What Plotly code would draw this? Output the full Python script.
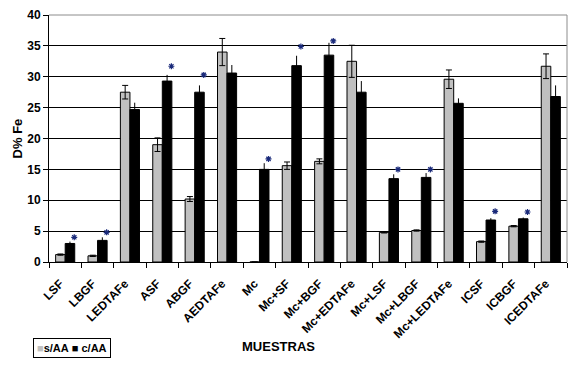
import plotly.graph_objects as go

categories = ["LSF", "LBGF", "LEDTAFe", "ASF", "ABGF", "AEDTAFe", "Mc", "Mc+SF", "Mc+BGF",
              "Mc+EDTAFe", "Mc+LSF", "Mc+LBGF", "Mc+LEDTAFe", "ICSF", "ICBGF", "ICEDTAFe"]
s_aa = [1.2, 1.0, 27.5, 19.0, 10.2, 34.0, 0, 15.6, 16.3, 32.5, 4.8, 5.1, 29.6, 3.3, 5.8, 31.7]
s_aa_err = [0.1, 0.1, 1.1, 1.1, 0.4, 2.2, 0, 0.6, 0.4, 2.6, 0.1, 0.1, 1.5, 0.1, 0.1, 2.0]
c_aa = [3.0, 3.5, 24.7, 29.3, 27.5, 30.6, 15.0, 31.8, 33.5, 27.5, 13.5, 13.7, 25.7, 6.8, 7.0, 26.8]
c_aa_err = [0.3, 0.5, 1.1, 1.0, 1.1, 1.3, 1.0, 1.6, 2.0, 1.8, 0.7, 0.7, 0.8, 0.3, 0.2, 1.8]
star_y = [4.0, 4.8, None, 31.7, 30.3, None, 16.7, 34.9, 35.8, None, 15.0, 15.0, None, 8.2, 8.1, None]
y_ticks = [0, 5, 10, 15, 20, 25, 30, 35, 40]

idx = list(range(len(categories)))
FONT = "Liberation Sans, Arial, sans-serif"
GRAY = "#C0C0C0"

fig = go.Figure()
fig.add_trace(go.Bar(
    x=idx, y=s_aa, name="s/AA",
    marker=dict(color=GRAY, line=dict(color="black", width=1)),
    error_y=dict(type="data", array=s_aa_err, visible=True, color="black", thickness=1, width=3),
))
fig.add_trace(go.Bar(
    x=idx, y=c_aa, name="c/AA",
    marker=dict(color="black", line=dict(color="black", width=1)),
    error_y=dict(type="data", array=c_aa_err, visible=True, color="black", thickness=1, width=0),
))
star_x = [i + 0.28 for i in idx]
fig.add_trace(go.Scatter(
    x=star_x, y=star_y, mode="markers", showlegend=False, hoverinfo="skip",
    marker=dict(symbol="asterisk-open", size=5, color="#1a2a7a",
                line=dict(color="#1a2a7a", width=1.2)),
))

# page body adds an 8px offset; figure is sized so the plot lands where the reference has it
fig.update_layout(
    width=570, height=357,
    margin=dict(l=41, r=11, t=7, b=103, autoexpand=False),
    paper_bgcolor="white", plot_bgcolor="white",
    barmode="group", bargap=0.41, bargroupgap=0,
    font=dict(family=FONT, color="black", size=11),
    showlegend=False,
    xaxis=dict(
        range=[-0.5, len(categories) - 0.5],
        tickmode="array", tickvals=idx, ticktext=["<b>%s</b>" % c for c in categories],
        tickangle=-45, ticklabelstandoff=9, ticklabelshift=-5,
        ticks="", showgrid=False, zeroline=False,
        showline=True, linecolor="black", linewidth=1,
        tickfont=dict(size=12, family=FONT),
        minor=dict(tick0=0.5, dtick=1, ticks="outside", ticklen=5, tickcolor="black", showgrid=False),
    ),
    yaxis=dict(
        range=[0, 40], tickmode="array", tickvals=y_ticks,
        ticktext=["<b>%d</b>" % v for v in y_ticks],
        ticks="outside", ticklen=5, tickcolor="black",
        showgrid=True, gridcolor="black", gridwidth=1, zeroline=False,
        showline=True, linecolor="black", linewidth=1,
        tickfont=dict(size=12, family=FONT),
    ),
    annotations=[
        dict(text="<b>MUESTRAS</b>", xref="paper", yref="paper", x=0.444, y=-0.343,
             showarrow=False, font=dict(size=13, family=FONT), xanchor="center", yanchor="middle"),
        dict(text="<b>D% Fe</b>", xref="paper", yref="paper", x=-0.06, y=0.5, textangle=-90,
             showarrow=False, font=dict(size=13, family=FONT), xanchor="center", yanchor="middle"),
        # legend box
        dict(text="<span style='color:%s'>■</span><b>s/AA</b> ■ <b>c/AA</b>" % GRAY,
             xref="paper", yref="paper", x=-0.031, y=-0.306, xanchor="left", yanchor="top",
             showarrow=False, font=dict(size=11, family=FONT), bordercolor="black",
             borderwidth=1, borderpad=3, bgcolor="white"),
    ],
    shapes=[
        dict(type="line", xref="paper", yref="paper", x0=0, x1=1, y0=1, y1=1,
             line=dict(color="#8c8c8c", width=1), layer="above"),
        dict(type="line", xref="paper", yref="paper", x0=1, x1=1, y0=0, y1=1,
             line=dict(color="#8c8c8c", width=1), layer="above"),
    ],
)

fig.write_html("out.html")
